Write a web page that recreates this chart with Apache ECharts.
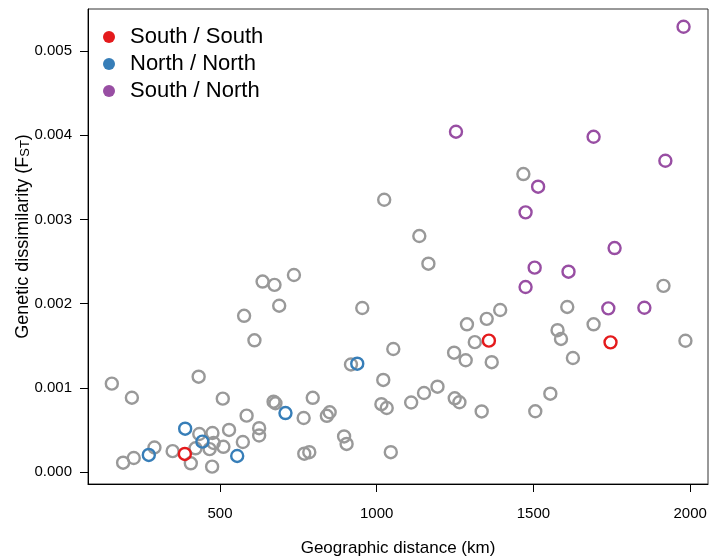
<!DOCTYPE html>
<html>
<head>
<meta charset="utf-8">
<script src="https://cdn.jsdelivr.net/npm/echarts@6/dist/echarts.min.js"></script>
<style>
html,body{margin:0;padding:0;background:#fff;}
#chart{width:709px;height:560px;}
</style>
</head>
<body>
<div id="chart"></div>
<script>
// Data (distance in km, FST)
const otherKm = [155,219,432,509,585,191,225,291,349,407,434,476,422,467,480,511,475,529,573,625,625,671,677,767,796,769,785,841,850,896,904,918,577,610,689,636,674,736,954,1024,1136,1165,1053,1021,1015,1032,1110,1151,1194,1249,1264,1335,1045,1288,1351,1394,1313,1247,1284,1367,1468,1608,1915,1692,1577,1588,1626,1985,1554,1506];
const otherFst = [0.001049,0.000882,0.001132,0.000871,0.000669,0.000110,0.000166,0.000291,0.000247,0.000103,0.000451,0.000463,0.000281,0.000271,0.000344,0.000299,0.000063,0.000499,0.000356,0.000520,0.000433,0.000835,0.000816,0.000641,0.000881,0.000217,0.000235,0.000667,0.000709,0.000422,0.000333,0.001277,0.001855,0.001564,0.001975,0.002262,0.002223,0.002340,0.001948,0.003234,0.002803,0.002474,0.001461,0.001093,0.000805,0.000760,0.000825,0.000938,0.001013,0.000875,0.000828,0.000719,0.000235,0.001754,0.001819,0.001924,0.001542,0.001417,0.001327,0.001304,0.003539,0.001960,0.002211,0.001754,0.001684,0.001580,0.001354,0.001559,0.000930,0.000721];

const southSouthKm = [388,1358,1746];
const southSouthFst = [0.000214,0.001560,0.001540];

const northNorthKm = [273,389,444,555,709,938];
const northNorthFst = [0.000202,0.000514,0.000360,0.000190,0.000700,0.001286];

const southNorthKm = [1979,1253,1692,1921,1515,1475,1759,1504,1612,1475,1739,1854];
const southNorthFst = [0.005289,0.004042,0.003982,0.003697,0.003389,0.003084,0.002660,0.002427,0.002379,0.002197,0.001944,0.001951];

const groupNames = ['South / South','North / North','South / North'];
const groupColors = ['#E41A1C','#377EB8','#984EA3'];
const otherColor = '#999999';

const xTicks = [500,1000,1500,2000];
const yTicks = [0,0.001,0.002,0.003,0.004,0.005];

function zip(a,b){ return a.map((v,i)=>[v,b[i]]); }

const font = 'Liberation Sans, Arial, Helvetica, sans-serif';

function scatter(name, km, fst, color){
  return {
    name: name,
    type: 'scatter',
    data: zip(km, fst),
    symbol: 'circle',
    symbolSize: 12,
    itemStyle: { color: 'rgba(0,0,0,0)', borderColor: color, borderWidth: 2.4, opacity: 1 },
    emphasis: { disabled: true },
    silent: true
  };
}

const chart = echarts.init(document.getElementById('chart'), null, {renderer:'canvas'});
chart.setOption({
  animation: false,
  backgroundColor: '#ffffff',
  textStyle: { fontFamily: font },
  grid: { left: 88, right: 1, top: 9, bottom: 76, containLabel: false, outerBoundsMode: 'none',
    show: true, borderColor: '#333', borderWidth: 1, backgroundColor: 'transparent' },
  legend: {
    orient: 'vertical',
    left: 98,
    top: 21,
    itemWidth: 12,
    itemHeight: 12,
    itemGap: 5,
    textStyle: { fontFamily: font, fontSize: 22, color: '#000', padding: [0,0,0,10], lineHeight: 22 },
    data: groupNames.map((n,i)=>({ name: n, icon: 'circle', itemStyle: { color: groupColors[i], borderWidth: 0, opacity: 1 } }))
  },
  xAxis: {
    type: 'value',
    min: 79, max: 2057,
    splitLine: { show: false },
    axisLine: { show: true, onZero: false, lineStyle: { color: '#000', width: 1 } },
    axisTick: { show: true, length: 8, customValues: xTicks, lineStyle: { color: '#000' } },
    axisLabel: { customValues: xTicks, margin: 22, fontSize: 15, color: '#000', fontFamily: font,
      formatter: v => String(v) },
    name: 'Geographic distance (km)',
    nameLocation: 'middle',
    nameGap: 56,
    nameMoveOverlap: false,
    nameTextStyle: { fontSize: 17, color: '#000', fontFamily: font }
  },
  yAxis: {
    type: 'value',
    min: -0.000143, max: 0.0055,
    splitLine: { show: false },
    axisLine: { show: true, onZero: false, lineStyle: { color: '#000', width: 1 } },
    axisTick: { show: true, length: 8, customValues: yTicks, lineStyle: { color: '#000' } },
    axisLabel: { customValues: yTicks, margin: 16, fontSize: 15, color: '#000', fontFamily: font,
      formatter: v => v.toFixed(3) },
    name: '{m|Genetic dissimilarity (F}{s|ST}{m|)}',
    nameLocation: 'middle',
    nameGap: 56,
    nameMoveOverlap: false,
    nameTextStyle: {
      color: '#000', fontFamily: font, fontSize: 18,
      padding: [0, 0, 0, 20],
      rich: {
        m: { fontSize: 18, fontFamily: font, color: '#000', lineHeight: 22, verticalAlign: 'bottom' },
        s: { fontSize: 13, fontFamily: font, color: '#000', lineHeight: 14, verticalAlign: 'bottom' }
      }
    }
  },
  series: [
    scatter('other', otherKm, otherFst, otherColor),
    scatter(groupNames[0], southSouthKm, southSouthFst, groupColors[0]),
    scatter(groupNames[1], northNorthKm, northNorthFst, groupColors[1]),
    scatter(groupNames[2], southNorthKm, southNorthFst, groupColors[2])
  ]
});
</script>
</body>
</html>
